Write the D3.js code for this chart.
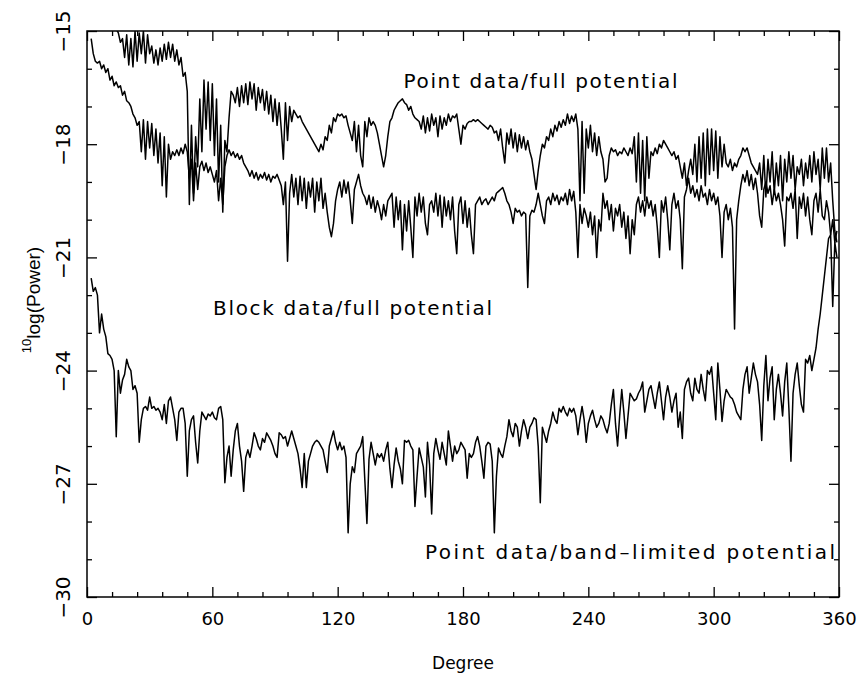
<!DOCTYPE html>
<html>
<head>
<meta charset="utf-8">
<script src="https://cdn.jsdelivr.net/npm/d3@7"></script>
<style>
  body { margin: 0; background: #fff; }
  svg { display: block; }
</style>
</head>
<body>
<svg id="chart" width="864" height="682"></svg>
<script>
// Power spectra per spherical-harmonic degree, one value per degree.
const pointFullStart = 12;
const pointFull = [
  -14.6,-14.8,-14.95,-15.05,-15.3,-15.2,-15.7,-15.1,
  -15.9,-15.2,-15.95,-15.0,-15.8,-15.05,-15.6,-15.0,-15.85,-15.1,
  -15.6,-15.4,-15.85,-15.5,-15.9,-15.45,-15.8,-15.35,-15.75,-15.3,
  -15.7,-15.35,-15.8,-15.5,-15.9,-15.7,-16.2,-16.1,-16.6,-19.6,
  -17.5,-19.3,-17.8,-18.6,-16.8,-18.2,-16.3,-17.6,-16.35,-17.9,
  -16.4,-18.3,-16.8,-19.0,-17.5,-19.8,-17.9,-18.2,-17.3,-16.6,
  -16.7,-16.9,-16.5,-17.0,-16.45,-16.9,-16.4,-16.95,-16.35,-16.8,
  -16.4,-17.1,-16.5,-16.9,-16.55,-17.1,-16.6,-17.2,-16.7,-17.4,
  -16.8,-17.5,-16.9,-17.6,-18.4,-16.9,-17.9,-17.0,-17.4,-17.1,
  -17.2,-17.3,-17.25,-17.4,-17.5,-17.6,-17.7,-17.8,-17.9,-18.0,
  -18.1,-18.2,-18.0,-18.15,-17.8,-17.9,-17.5,-17.7,-17.3,-17.4,
  -17.2,-17.25,-17.2,-17.3,-17.25,-17.5,-17.7,-17.9,-17.4,-18.2,
  -17.5,-18.3,-18.6,-17.4,-17.8,-17.3,-17.5,-17.4,-17.5,-17.7,
  -18.0,-18.3,-18.6,-18.3,-17.8,-17.4,-17.3,-17.1,-17.0,-16.9,
  -16.85,-16.8,-16.9,-16.95,-17.1,-17.0,-17.2,-17.3,-17.35,-17.4,
  -17.6,-17.25,-17.7,-17.3,-17.65,-17.2,-17.5,-17.3,-17.8,-17.25,
  -17.6,-17.3,-17.5,-17.2,-17.4,-17.25,-17.3,-17.2,-17.6,-18.0,
  -17.5,-17.6,-17.45,-17.4,-17.4,-17.35,-17.4,-17.35,-17.4,-17.45,
  -17.5,-17.55,-17.6,-17.5,-17.55,-17.7,-17.65,-17.9,-17.6,-18.1,
  -18.5,-17.7,-18.0,-17.6,-18.1,-17.7,-18.2,-17.75,-18.1,-17.8,
  -18.15,-17.9,-18.2,-18.4,-18.8,-19.2,-18.7,-18.3,-18.0,-18.1,
  -17.8,-17.9,-17.6,-17.8,-17.5,-17.65,-17.4,-17.55,-17.35,-17.5,
  -17.2,-17.45,-17.25,-17.4,-17.2,-17.6,-19.5,-17.4,-19.3,-17.6,
  -18.1,-17.5,-18.2,-17.7,-18.3,-17.8,-18.2,-18.4,-19.0,-18.9,
  -18.3,-18.1,-18.2,-18.15,-18.3,-18.2,-18.25,-18.1,-18.2,-18.3,
  -18.1,-18.25,-17.8,-19.0,-17.7,-19.3,-17.9,-19.5,-17.8,-18.9,
  -18.2,-18.3,-18.1,-18.25,-18.0,-18.1,-17.9,-18.0,-18.1,-18.2,
  -18.3,-18.2,-18.4,-18.3,-18.6,-18.9,-18.5,-19.1,-18.7,-18.4,
  -18.8,-18.0,-19.0,-17.8,-18.9,-17.7,-19.1,-17.6,-18.8,-17.6,
  -18.7,-17.65,-18.9,-17.8,-18.6,-18.0,-18.5,-18.6,-18.4,-18.7,
  -18.5,-18.6,-18.4,-18.3,-18.1,-18.2,-18.1,-18.3,-18.5,-18.6,
  -18.7,-18.8,-18.5,-19.2,-18.3,-19.4,-18.4,-19.0,-18.2,-19.3,
  -18.5,-19.1,-18.3,-19.5,-18.4,-19.0,-18.2,-18.9,-18.3,-19.2,
  -18.6,-18.8,-18.4,-19.1,-18.5,-18.9,-18.3,-19.0,-18.2,-18.8,
  -18.4,-19.2,-18.1,-18.9,-18.1,-19.0,-18.5,-19.5,-20.3,-20.6
];

const blockFullStart = 2;
const blockFull = [
  -15.2,-15.6,-15.8,-15.85,-15.8,-16.0,-15.9,-16.1,
  -16.0,-16.3,-16.2,-16.45,-16.35,-16.5,-16.45,-16.7,-16.6,-16.85,
  -16.9,-17.0,-17.2,-17.3,-17.5,-17.4,-18.2,-17.35,-18.4,-17.4,
  -18.1,-17.45,-18.3,-17.6,-18.5,-17.7,-19.1,-17.8,-19.4,-18.0,
  -18.4,-18.2,-18.3,-18.15,-18.3,-18.1,-18.25,-18.0,-18.2,-18.9,
  -18.4,-19.5,-18.5,-19.2,-18.6,-18.45,-18.7,-18.5,-18.75,-18.6,
  -18.8,-19.0,-18.7,-19.5,-18.9,-19.6,-18.6,-18.3,-18.15,-18.3,
  -18.2,-18.35,-18.25,-18.4,-18.3,-18.5,-18.6,-18.7,-18.85,-18.7,
  -18.9,-18.75,-18.95,-18.8,-18.9,-18.75,-18.95,-18.8,-19.0,-18.85,
  -18.9,-18.8,-18.95,-19.1,-19.6,-19.0,-21.1,-19.3,-18.8,-19.4,
  -18.9,-19.6,-18.85,-19.5,-18.9,-19.7,-19.0,-19.4,-18.9,-19.8,
  -19.0,-19.5,-18.9,-19.7,-19.3,-19.8,-20.2,-20.45,-20.1,-19.5,
  -19.2,-19.0,-19.4,-18.95,-19.3,-19.0,-19.5,-20.1,-19.2,-19.0,
  -18.8,-19.1,-19.3,-19.4,-19.6,-19.35,-19.7,-19.4,-19.8,-19.5,
  -19.7,-20.0,-19.6,-19.9,-19.5,-19.4,-19.3,-20.2,-19.4,-20.0,
  -19.5,-20.8,-19.6,-20.3,-19.5,-20.2,-21.0,-19.4,-19.9,-19.3,
  -19.8,-19.4,-20.1,-20.4,-19.6,-19.5,-19.8,-19.3,-19.9,-19.35,
  -20.2,-19.4,-19.9,-19.5,-20.0,-19.4,-20.3,-20.9,-19.6,-19.4,
  -20.1,-19.5,-20.2,-19.7,-20.4,-20.9,-19.6,-19.5,-19.4,-19.6,
  -19.5,-19.45,-19.6,-19.5,-19.4,-19.5,-19.3,-19.25,-19.2,-19.15,
  -19.3,-19.5,-19.6,-19.8,-20.1,-19.7,-19.8,-19.75,-19.9,-19.8,
  -19.85,-21.8,-19.9,-19.75,-19.8,-19.6,-19.3,-19.6,-19.9,-20.1,
  -19.5,-19.4,-19.6,-19.3,-19.5,-19.35,-19.6,-19.4,-19.5,-19.3,
  -19.6,-19.2,-19.5,-19.25,-19.8,-21.0,-19.6,-20.1,-19.7,-19.9,
  -20.2,-19.8,-20.4,-19.9,-21.0,-20.0,-20.3,-19.3,-19.7,-19.5,
  -20.0,-19.6,-20.3,-19.7,-19.9,-19.6,-20.2,-19.8,-20.5,-19.9,
  -20.9,-20.0,-20.4,-19.6,-19.4,-19.8,-19.5,-19.9,-19.4,-19.7,
  -19.5,-19.9,-19.6,-20.2,-21.0,-19.5,-19.8,-19.4,-20.0,-20.8,
  -19.6,-19.3,-19.7,-19.5,-20.0,-21.3,-19.4,-19.2,-18.9,-19.3,
  -19.1,-19.4,-19.2,-19.5,-19.1,-19.4,-19.3,-19.6,-19.2,-19.5,
  -19.3,-19.6,-19.4,-19.9,-21.0,-19.8,-19.6,-20.0,-19.7,-20.2,
  -22.9,-20.0,-19.5,-19.1,-18.8,-19.0,-18.7,-19.1,-18.8,-19.2,
  -18.9,-19.3,-19.9,-20.2,-19.2,-19.0,-19.3,-19.1,-19.6,-19.2,
  -19.5,-19.3,-19.6,-20.0,-20.7,-19.4,-19.5,-19.3,-19.7,-19.2,
  -20.5,-19.4,-19.7,-19.3,-19.9,-19.4,-20.0,-20.4,-19.5,-19.3,
  -19.8,-19.2,-19.9,-20.0,-19.5,-19.8,-20.4,-22.3,-20.6,-21.0
];

const bandLimitedStart = 2;
const bandLimited = [
  -21.55,-21.9,-21.8,-22.0,-23.0,-22.5,-22.9,-23.1,
  -23.55,-23.6,-23.7,-24.0,-25.75,-24.0,-24.6,-24.25,-24.1,-23.7,
  -23.9,-24.0,-24.5,-24.4,-24.6,-25.9,-25.3,-25.0,-24.95,-25.05,
  -24.7,-25.0,-24.95,-25.05,-25.0,-25.1,-25.3,-24.9,-25.4,-24.8,
  -24.7,-25.0,-25.3,-25.85,-25.1,-25.0,-25.0,-25.4,-26.8,-25.6,
  -25.3,-25.2,-25.9,-26.45,-25.6,-25.1,-25.2,-25.3,-25.15,-25.2,
  -25.1,-25.25,-25.3,-25.0,-24.95,-25.3,-26.97,-26.3,-26.0,-26.8,
  -26.1,-25.6,-25.4,-26.0,-26.4,-27.2,-26.3,-26.1,-26.3,-26.0,
  -25.65,-25.8,-26.0,-26.1,-25.8,-25.9,-25.65,-25.75,-25.85,-26.0,
  -26.2,-26.3,-25.65,-25.7,-25.8,-25.75,-26.0,-25.8,-25.6,-25.8,
  -26.0,-26.2,-26.6,-27.1,-26.2,-27.1,-26.4,-26.2,-26.0,-25.9,
  -25.85,-25.9,-26.0,-26.1,-26.4,-26.7,-26.0,-25.8,-25.6,-25.9,
  -26.1,-25.9,-26.1,-26.0,-26.3,-28.3,-27.0,-26.55,-26.7,-26.2,
  -26.1,-26.0,-25.75,-26.9,-28.05,-26.35,-25.9,-26.2,-26.5,-26.2,
  -26.3,-26.2,-26.4,-26.1,-25.9,-26.6,-27.1,-26.5,-26.05,-26.4,
  -26.6,-27.0,-25.85,-25.9,-25.85,-26.0,-26.1,-27.6,-26.8,-26.05,
  -26.3,-26.55,-27.35,-25.9,-26.5,-27.8,-26.2,-25.8,-26.1,-26.35,
  -25.9,-26.2,-26.5,-25.6,-26.0,-26.4,-26.0,-26.2,-26.1,-25.9,
  -26.0,-26.1,-26.85,-26.2,-26.3,-26.2,-25.9,-25.75,-26.0,-26.4,
  -26.85,-26.0,-25.9,-25.95,-26.4,-28.3,-26.8,-26.05,-26.2,-26.3,
  -26.0,-25.75,-25.3,-25.6,-25.75,-25.4,-25.5,-26.0,-25.6,-25.3,
  -25.5,-25.8,-25.5,-25.4,-25.25,-25.3,-26.0,-27.5,-25.5,-25.7,
  -25.9,-25.6,-25.4,-25.1,-25.3,-25.4,-25.0,-25.1,-24.95,-25.1,
  -25.2,-25.0,-25.1,-25.0,-25.2,-25.7,-25.3,-24.95,-25.3,-25.9,
  -25.4,-25.2,-25.05,-25.3,-25.5,-25.4,-25.2,-25.3,-25.5,-25.65,
  -25.4,-24.9,-24.5,-25.4,-26.0,-25.2,-24.5,-25.1,-25.8,-25.2,
  -24.6,-24.7,-24.8,-24.75,-24.6,-24.5,-24.3,-25.1,-24.8,-24.5,
  -24.4,-24.7,-25.0,-24.6,-24.3,-24.8,-25.3,-24.7,-24.4,-24.7,
  -25.1,-24.8,-24.6,-25.5,-25.1,-25.8,-24.5,-24.3,-24.2,-24.6,
  -24.8,-24.2,-24.5,-24.6,-24.1,-24.5,-24.8,-24.0,-24.1,-23.9,
  -24.6,-25.3,-23.8,-24.5,-25.35,-24.8,-24.5,-24.6,-24.7,-24.75,
  -24.9,-25.1,-25.2,-25.3,-24.5,-24.1,-23.9,-24.6,-24.2,-23.8,
  -24.1,-24.3,-24.9,-25.85,-24.4,-23.6,-24.8,-24.2,-23.9,-25.3,
  -24.5,-24.1,-24.6,-25.2,-24.3,-23.8,-25.0,-26.4,-24.6,-24.1,
  -23.8,-24.4,-24.9,-25.1,-23.7,-23.8,-23.6,-24.0,-23.7,-23.4,
  -22.9,-22.5,-22.0,-21.5,-21.0,-20.5,-20.4,-20.0,-20.6,-20.3
];

const xTicks = [0, 60, 120, 180, 240, 300, 360];
const xMinorTicks = [12, 24, 36, 48, 72, 84, 96, 108, 132, 144, 156, 168, 192, 204, 216, 228, 252, 264, 276, 288, 312, 324, 336, 348];
const yTicks = [-30, -27, -24, -21, -18, -15];
const yMinorTicks = [-29, -28, -26, -25, -23, -22, -20, -19, -17, -16];

const curveLabels = [
  { text: "Point data/full potential", deg: 151.5, val: -16.52, width: 274 },
  { text: "Block data/full potential", deg: 60.3, val: -22.53, width: 279 },
  { text: "Point data/band\u2013limited potential", deg: 161.8, val: -29.0, width: 410 }
];

const svg = d3.select("#chart");
const plot = { left: 87, top: 31, right: 839, bottom: 597 };

const x = d3.scaleLinear().domain([0, 360]).range([plot.left, plot.right]);
const y = d3.scaleLinear().domain([-30, -15]).range([plot.bottom, plot.top]);

const tickFont = "'DejaVu Sans', sans-serif";

svg.append("defs").append("clipPath").attr("id", "plotClip")
  .append("rect")
  .attr("x", plot.left).attr("y", plot.top)
  .attr("width", plot.right - plot.left).attr("height", plot.bottom - plot.top);

// Spectra
const line = d3.line().x(d => x(d[0])).y(d => y(d[1]));
const series = [
  [pointFullStart, pointFull],
  [blockFullStart, blockFull],
  [bandLimitedStart, bandLimited]
];
svg.append("g").attr("clip-path", "url(#plotClip)")
  .selectAll("path").data(series).join("path")
  .attr("d", ([start, vals]) => line(vals.map((v, i) => [start + i, v])))
  .attr("fill", "none")
  .attr("stroke", "#000")
  .attr("stroke-width", 1.5)
  .attr("stroke-linejoin", "round");

// Inward ticks on all four sides
function styleAxis(g) {
  g.select(".domain").remove();
  g.selectAll(".tick line").attr("stroke", "#000").attr("stroke-width", 1.3);
}
const bottomMajor = svg.append("g").attr("transform", `translate(0,${plot.bottom})`)
  .call(d3.axisBottom(x).tickValues(xTicks).tickSize(-10).tickFormat(d3.format("d")))
  .call(styleAxis);
bottomMajor.selectAll("text")
  .attr("y", 28).attr("dy", 0)
  .attr("fill", "#000")
  .style("font-family", tickFont).style("font-size", "18px");
svg.append("g").attr("transform", `translate(0,${plot.bottom})`)
  .call(d3.axisBottom(x).tickValues(xMinorTicks).tickSize(-5).tickFormat(""))
  .call(styleAxis);
svg.append("g").attr("transform", `translate(0,${plot.top})`)
  .call(d3.axisTop(x).tickValues(xTicks).tickSize(-10).tickFormat(""))
  .call(styleAxis);
svg.append("g").attr("transform", `translate(0,${plot.top})`)
  .call(d3.axisTop(x).tickValues(xMinorTicks).tickSize(-5).tickFormat(""))
  .call(styleAxis);

const leftMajor = svg.append("g").attr("transform", `translate(${plot.left},0)`)
  .call(d3.axisLeft(y).tickValues(yTicks).tickSize(-10).tickFormat(d3.format("d")))
  .call(styleAxis);
leftMajor.selectAll("text")
  .attr("x", 0).attr("dy", 0)
  .attr("text-anchor", "middle")
  .attr("transform", "translate(-17,0) rotate(-90)")
  .attr("fill", "#000")
  .style("font-family", tickFont).style("font-size", "20px");
svg.append("g").attr("transform", `translate(${plot.left},0)`)
  .call(d3.axisLeft(y).tickValues(yMinorTicks).tickSize(-5).tickFormat(""))
  .call(styleAxis);
svg.append("g").attr("transform", `translate(${plot.right},0)`)
  .call(d3.axisRight(y).tickValues(yTicks).tickSize(-10).tickFormat(""))
  .call(styleAxis);
svg.append("g").attr("transform", `translate(${plot.right},0)`)
  .call(d3.axisRight(y).tickValues(yMinorTicks).tickSize(-5).tickFormat(""))
  .call(styleAxis);

// Frame
svg.append("rect")
  .attr("x", plot.left).attr("y", plot.top)
  .attr("width", plot.right - plot.left).attr("height", plot.bottom - plot.top)
  .attr("fill", "none").attr("stroke", "#000").attr("stroke-width", 1.5);

// Curve annotations
svg.append("g").selectAll("text").data(curveLabels).join("text")
  .attr("x", d => x(d.deg)).attr("y", d => y(d.val))
  .attr("textLength", d => d.width).attr("lengthAdjust", "spacing")
  .style("font-family", tickFont).style("font-size", "20px")
  .attr("fill", "#000")
  .text(d => d.text);

// Axis titles
svg.append("text")
  .attr("x", (plot.left + plot.right) / 2).attr("y", 669)
  .attr("text-anchor", "middle")
  .style("font-family", tickFont).style("font-size", "17px")
  .attr("fill", "#000")
  .text("Degree");

const yTitle = svg.append("text")
  .attr("transform", "translate(40,300) rotate(-90)")
  .attr("text-anchor", "middle")
  .style("font-family", "'Liberation Sans', Arial, sans-serif").style("font-size", "19px")
  .attr("fill", "#000");
yTitle.append("tspan").attr("font-size", "13px").attr("dy", -9).text("10");
yTitle.append("tspan").attr("dy", 9).text("log(Power)");
</script>
</body>
</html>
